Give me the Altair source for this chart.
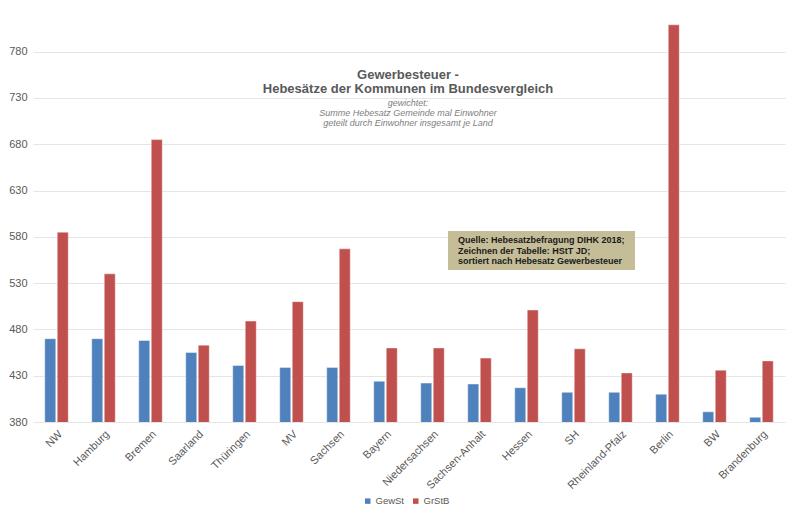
import altair as alt
import pandas as pd

states = ["NW", "Hamburg", "Bremen", "Saarland", "Thüringen", "MV", "Sachsen", "Bayern",
          "Niedersachsen", "Sachsen-Anhalt", "Hessen", "SH", "Rheinland-Pfalz", "Berlin",
          "BW", "Brandenburg"]
gewst = [470, 470, 468, 455, 441, 439, 439, 424, 422, 421, 417, 412, 412, 410, 391, 385]
grstb = [585, 540, 685, 463, 489, 510, 567, 460, 460, 449, 501, 459, 433, 809, 436, 446]
series = ["GewSt", "GrStB"]
colors = ["#4F81BD", "#C0504D"]
y_ticks = [380, 430, 480, 530, 580, 630, 680, 730, 780]

title_lines = ["Gewerbesteuer -", "Hebesätze der Kommunen  im Bundesvergleich"]
sub_lines = ["gewichtet:", "Summe Hebesatz Gemeinde mal Einwohner",
             "geteilt durch Einwohner insgesamt je Land"]
box_lines = ["Quelle:  Hebesatzbefragung DIHK 2018;", "Zeichnen  der Tabelle:  HStT JD;",
             "sortiert nach Hebesatz Gewerbesteuer"]

rows = []
for i, s in enumerate(states):
    rows.append({"Land": s, "Serie": series[0], "Wert": gewst[i]})
    rows.append({"Land": s, "Serie": series[1], "Wert": grstb[i]})
df = pd.DataFrame(rows)

W, H = 752, 412
one = pd.DataFrame({"a": [0]})

bars = alt.Chart(df).mark_bar(stroke="#ffffff", strokeWidth=0.6, strokeOpacity=0.7,
                              clip=True).encode(
    x=alt.X("Land:N", sort=states, title=None,
            scale=alt.Scale(paddingInner=0.5, paddingOuter=0.25),
            axis=alt.Axis(labelAngle=-45, labelAlign="right", labelBaseline="top",
                          labelColor="#595959", labelFontSize=11, labelFont="Liberation Sans",
                          ticks=False, domain=False, labelPadding=6)),
    xOffset=alt.XOffset("Serie:N", sort=series, scale=alt.Scale(paddingInner=0.12)),
    y=alt.Y("Wert:Q", title=None,
            scale=alt.Scale(domain=[380, 825], zero=False, nice=False),
            axis=alt.Axis(values=y_ticks, labelColor="#595959", labelFontSize=11,
                          labelFont="Liberation Sans", ticks=False, domain=False,
                          gridColor="#E5E5E5", gridWidth=1, labelPadding=6)),
    color=alt.Color("Serie:N", sort=series,
                    scale=alt.Scale(domain=series, range=colors),
                    legend=alt.Legend(title=None, orient="none", direction="horizontal",
                                      legendX=330, legendY=486, symbolType="square",
                                      symbolSize=30, labelFontSize=9.5, labelColor="#595959",
                                      labelFont="Liberation Sans", columnPadding=6,
                                      labelOffset=3, symbolStrokeWidth=0)),
)

layers = [bars]

for i, t in enumerate(title_lines):
    layers.append(alt.Chart(one).mark_text(
        fontSize=13, fontWeight="bold", color="#595959", font="Liberation Sans",
        baseline="middle", align="center").encode(
        text=alt.value(t), x=alt.value(375), y=alt.value(65 + i * 14)))

for i, t in enumerate(sub_lines):
    layers.append(alt.Chart(one).mark_text(
        fontSize=9, fontStyle="italic", color="#808080", font="Liberation Sans",
        baseline="middle", align="center").encode(
        text=alt.value(t), x=alt.value(375), y=alt.value(92.5 + i * 10)))

layers.append(alt.Chart(one).mark_rect(color="#C4BD97").encode(
    x=alt.value(415), x2=alt.value(602), y=alt.value(221), y2=alt.value(260)))

for i, t in enumerate(box_lines):
    layers.append(alt.Chart(one).mark_text(
        fontSize=9, fontWeight="bold", color="#1a1a1a", font="Liberation Sans",
        baseline="middle", align="left").encode(
        text=alt.value(t), x=alt.value(425), y=alt.value(230 + i * 10.5)))

chart = alt.layer(*layers).properties(
    width=W, height=H, background="#ffffff",
    padding={"left": 0, "top": 2, "right": 5, "bottom": 5}
).configure_view(stroke="transparent", strokeWidth=0)

chart.save("out.html", embed_options={"renderer": "svg", "actions": False})
